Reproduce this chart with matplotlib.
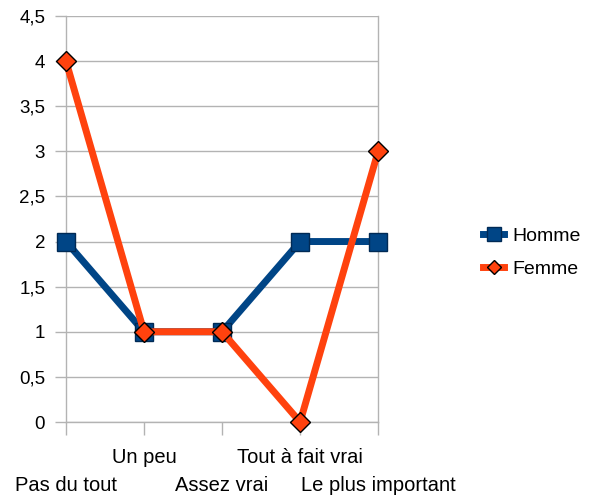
import matplotlib.pyplot as plt

categories = ["Pas du tout", "Un peu", "Assez vrai", "Tout à fait vrai", "Le plus important"]
homme = [2, 1, 1, 2, 2]
femme = [4, 1, 1, 0, 3]
yticks = [0, 0.5, 1, 1.5, 2, 2.5, 3, 3.5, 4, 4.5]

plt.rcParams['font.family'] = ['Liberation Sans', 'DejaVu Sans']

fig = plt.figure(figsize=(5.89, 4.98), dpi=100)
ax = fig.add_axes([0.112, 0.1526, 0.530, 0.8154])

x = list(range(len(categories)))
ax.plot(x, homme, color='#004586', lw=5, marker='s', markersize=13,
        markerfacecolor='#004586', markeredgecolor='#002a55', markeredgewidth=1,
        label='Homme', zorder=3, clip_on=False)
ax.plot(x, femme, color='#ff420e', lw=5, marker='D', markersize=10,
        markerfacecolor='#ff420e', markeredgecolor='black', markeredgewidth=1,
        label='Femme', zorder=4, clip_on=False)

ax.set_xlim(0, len(categories) - 1)
ax.set_ylim(0, 4.5)
ax.set_yticks(yticks)
ax.set_yticklabels([("%g" % v).replace('.', ',') for v in yticks], fontsize=13.5)
ax.yaxis.grid(True, color='#b3b3b3', lw=1)
ax.set_axisbelow(True)

ax.set_xticks(x)
ax.set_xticklabels([])
ax.tick_params(axis='x', length=9, color='#b3b3b3', width=1)
ax.tick_params(axis='y', length=8, color='#b3b3b3', width=1, pad=7)
for i, c in enumerate(categories):
    yoff = -0.39 if i % 2 == 1 else -0.70
    ax.text(i, yoff, c, ha='center', va='center', fontsize=14.5, clip_on=False)

ax.spines['top'].set_visible(False)
for s in ['left', 'right', 'bottom']:
    ax.spines[s].set_color('#b3b3b3')
    ax.spines[s].set_linewidth(1)

ax.legend(loc='center left', bbox_to_anchor=(0.79, 0.493), bbox_transform=fig.transFigure,
          frameon=False, fontsize=14, handlelength=1.1, handletextpad=0.4, labelspacing=0.8,
          markerscale=0.75)

fig.savefig('out.png', dpi=100)
